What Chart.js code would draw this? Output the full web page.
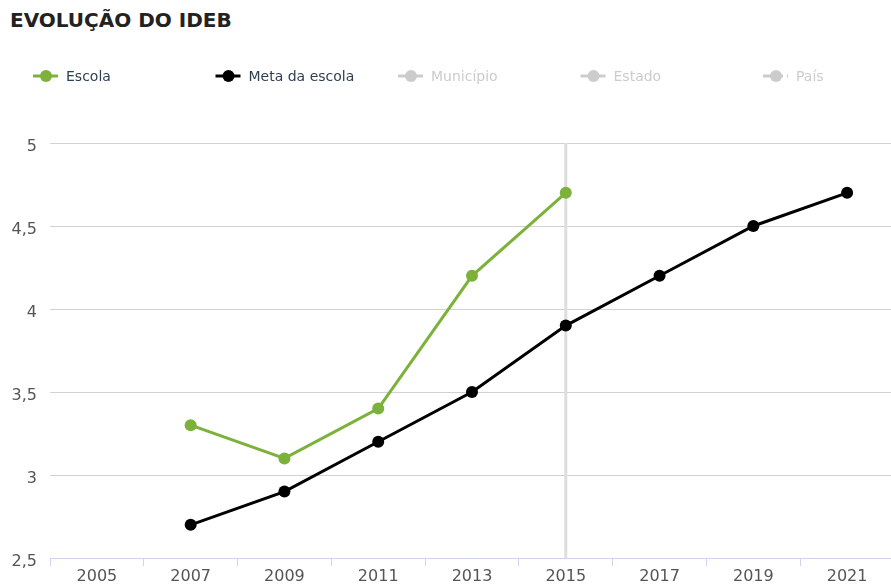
<!DOCTYPE html>
<html>
<head>
<meta charset="utf-8">
<script src="https://cdn.jsdelivr.net/npm/chart.js@4/dist/chart.umd.min.js"></script>
<style>
  html, body { margin: 0; padding: 0; background: #fff; overflow: hidden; }
  #wrap { position: relative; width: 900px; height: 585px; }
  #title {
    position: absolute; left: 10px; top: 8px;
    font: bold 20px "DejaVu Sans", sans-serif; color: #222;
  }
  canvas { position: absolute; left: 0; top: 0; }
</style>
</head>
<body>
<div id="wrap">
  <div id="title">EVOLUÇÃO DO IDEB</div>
  <canvas id="ideb" width="900" height="585"></canvas>
</div>
<script>
const years = ['2005', '2007', '2009', '2011', '2013', '2015', '2017', '2019', '2021'];
const escola = [null, 3.3, 3.1, 3.4, 4.2, 4.7, null, null, null];
const metaEscola = [null, 2.7, 2.9, 3.2, 3.5, 3.9, 4.2, 4.5, 4.7];
// series that are switched off in the legend, nothing visible on the plot
const municipio = [];
const estado = [];
const pais = [];
const yTicks = [2.5, 3, 3.5, 4, 4.5, 5];
const highlightYear = '2015';

const GREEN = '#7cb13a';
const BLACK = '#000000';
const FONT = '"DejaVu Sans", sans-serif';

// legend drawn by hand so the spacing stays fixed like the original
const legendPlugin = {
  id: 'fixedLegend',
  afterDraw(chart) {
    const ctx = chart.ctx;
    ctx.save();
    ctx.font = '14px ' + FONT;
    ctx.textBaseline = 'middle';
    chart.data.datasets.forEach((ds, i) => {
      const x0 = 33 + i * 182.5;
      const y = 76;
      const col = ds.hidden ? '#cccccc' : ds.borderColor;
      ctx.strokeStyle = col;
      ctx.fillStyle = col;
      ctx.lineWidth = 3;
      ctx.setLineDash(ds.legendDash || []);
      ctx.beginPath();
      ctx.moveTo(x0, y);
      ctx.lineTo(x0 + 25, y);
      ctx.stroke();
      ctx.setLineDash([]);
      ctx.beginPath();
      ctx.arc(x0 + 13, y, 6, 0, Math.PI * 2);
      ctx.fill();
      ctx.fillStyle = ds.hidden ? '#cccccc' : '#2f3f52';
      ctx.fillText(ds.label, x0 + 33, y + 1);
    });
    ctx.restore();
  }
};

// the grey vertical crosshair on 2015
const crosshairPlugin = {
  id: 'crosshair',
  beforeDatasetsDraw(chart) {
    const x = chart.scales.x.getPixelForValue(years.indexOf(highlightYear));
    const area = chart.chartArea;
    const ctx = chart.ctx;
    ctx.save();
    ctx.strokeStyle = '#dedede';
    ctx.lineWidth = 3;
    ctx.beginPath();
    ctx.moveTo(x, area.top);
    ctx.lineTo(x, area.bottom);
    ctx.stroke();
    ctx.restore();
  }
};

function line(label, data, color, hidden) {
  return {
    label: label,
    data: data,
    borderColor: color,
    backgroundColor: color,
    borderWidth: 3,
    pointRadius: 6,
    pointHoverRadius: 6,
    pointBorderWidth: 0,
    tension: 0,
    spanGaps: false,
    hidden: hidden
  };
}

const datasets = [
  line('Escola', escola, GREEN, false),
  line('Meta da escola', metaEscola, BLACK, false),
  line('Município', municipio, '#cccccc', true),
  line('Estado', estado, '#cccccc', true),
  line('País', pais, '#cccccc', true)
];
datasets[4].legendDash = [8, 4];

new Chart(document.getElementById('ideb'), {
  type: 'line',
  data: { labels: years, datasets: datasets },
  options: {
    responsive: false,
    animation: false,
    layout: { padding: { top: 143, right: 0, left: 0, bottom: 0 } },
    plugins: {
      legend: { display: false },
      title: { display: false },
      tooltip: { enabled: false }
    },
    scales: {
      x: {
        offset: true,
        afterFit(scale) { scale.height = 27; },
        grid: {
          offset: true,
          drawOnChartArea: false,
          drawTicks: true,
          tickLength: 8,
          color: '#ccd6eb',
          lineWidth: 1
        },
        border: { display: true, color: '#ccd6eb', width: 1 },
        ticks: {
          padding: 1,
          maxRotation: 0,
          autoSkip: false,
          color: '#555',
          font: { family: FONT, size: 16 }
        }
      },
      y: {
        min: 2.5,
        max: 5,
        afterFit(scale) { scale.width = 50; },
        afterBuildTicks(scale) { scale.ticks = yTicks.map(v => ({ value: v })); },
        grid: { color: '#d2d2d2', lineWidth: 1, drawTicks: false },
        border: { display: false },
        ticks: {
          padding: 13,
          labelOffset: 4,
          color: '#555',
          font: { family: FONT, size: 16 },
          callback: v => String(v).replace('.', ',')
        }
      }
    }
  },
  plugins: [crosshairPlugin, legendPlugin]
});
</script>
</body>
</html>
